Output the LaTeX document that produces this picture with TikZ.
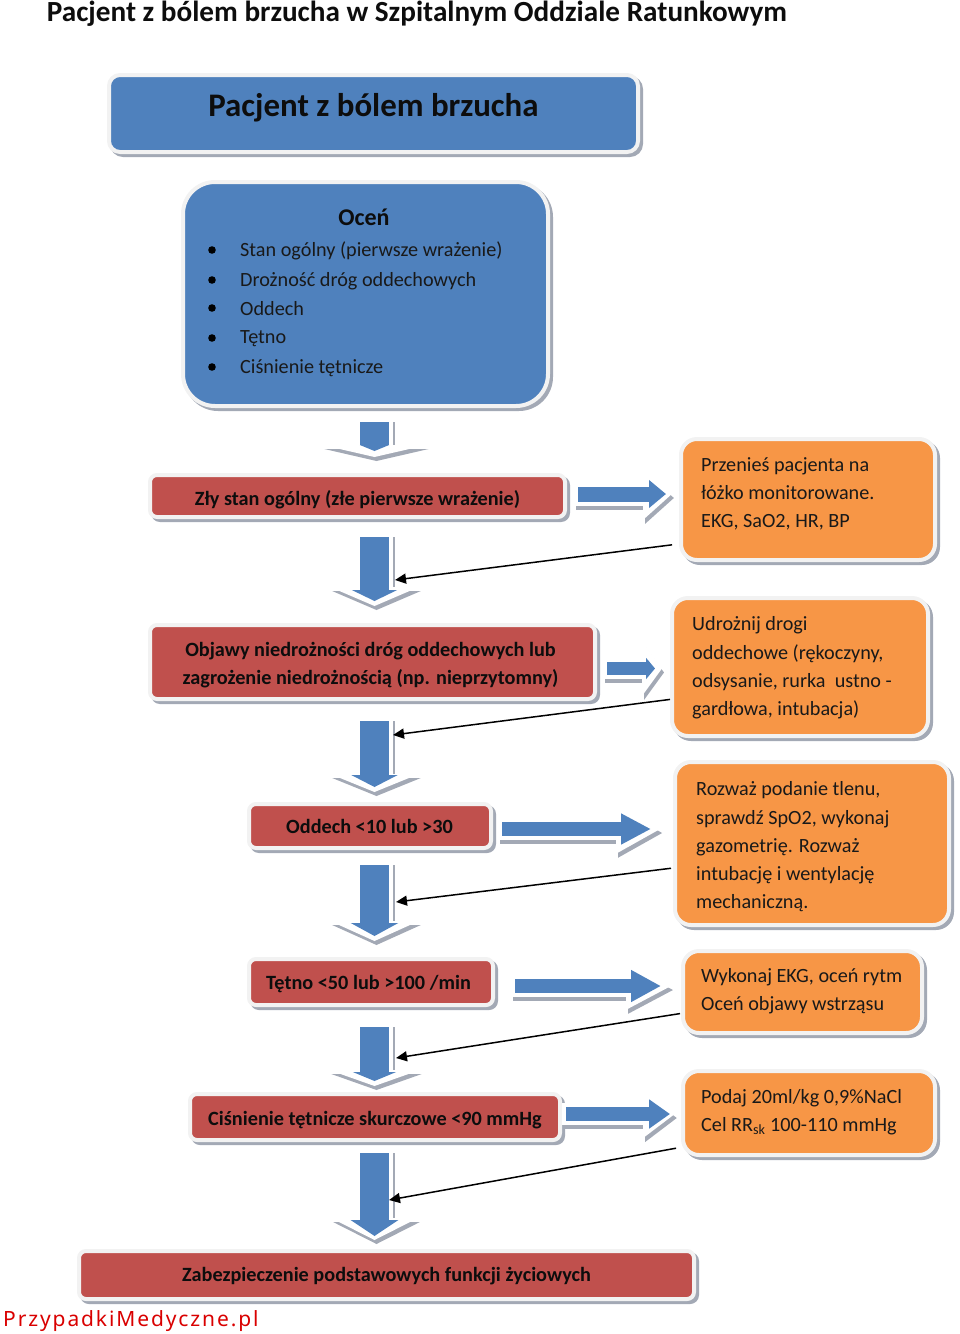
\documentclass[tikz,border=0pt]{standalone}
\usepackage{fontspec}
\setmainfont{Carlito}
\newfontfamily\markfont{Noto Sans}
\usetikzlibrary{arrows.meta}

\definecolor{boxblue}{HTML}{4F81BD}
\definecolor{boxred}{HTML}{C0504D}
\definecolor{boxorange}{HTML}{F79646}
\definecolor{rimgrey}{HTML}{F2F2F2}
\definecolor{shadowgrey}{HTML}{A3A9B5}

% moves a line of text inside its box: right, down
\newcommand{\nudge}[3]{\raisebox{-#2}[\height][\depth]{\kern#1\relax #3}}

\tikzset{
	card/.style={draw=rimgrey,line width=4pt,inner sep=0pt,text=black!95,align=center,
		preaction={draw=shadowgrey,fill=shadowgrey,transform canvas={shift={(3pt,-3pt)}}}},
	redbox/.style={card,fill=boxred,rounded corners=7pt,font=\fontsize{20.25}{28}\selectfont\bfseries},
	bluebox/.style={card,fill=boxblue},
	orangebox/.style={card,fill=boxorange,rounded corners=16pt},
	orangetext/.style={anchor=west,align=left,inner sep=0pt,text=black!90,font=\fontsize{20.2}{28.3}\selectfont},
	listtext/.style={anchor=west,inner sep=0pt,text=black!90,font=\fontsize{20.2}{24}\selectfont},
	thinarrow/.style={black,line width=1.5pt,-{Triangle[length=11pt,width=10pt]}},
	% shaft, head width, head length, rim head width, rim head length, start gap, end gap, rim overhang
	blockarrow/.style n args={8}{line width=#1,draw=boxblue,-{Triangle[width=#2,length=#3]},
		shorten <=#6,shorten >=#7,
		preaction={draw=shadowgrey,line width=#1+8pt,-{Triangle[width=#4,length=#5]},
			shorten <=#6-4pt,shorten >=#7-#8,transform canvas={shift={(2pt,-4pt)}}},
		preaction={draw=white,line width=#1+8pt,-{Triangle[width=#4,length=#5]},
			shorten <=#6-4pt,shorten >=#7-#8}},
}

\begin{document}
\begin{tikzpicture}[x=1pt,y=-1pt]
	\useasboundingbox (0,0) rectangle (960,1334);
	\node[inner sep=0pt,font=\fontsize{29.2}{32}\selectfont\bfseries,text=black!95] (title) at (417,14) {Pacjent z bólem brzucha w Szpitalnym Oddziale Ratunkowym};

	% left column
	\node[bluebox,rounded corners=11pt,minimum width=529pt,minimum height=77pt,font=\fontsize{32.9}{36}\selectfont\bfseries] (header) at (373.5,113.5) {\nudge{0pt}{-6pt}{Pacjent z bólem brzucha}};
	\node[bluebox,rounded corners=32pt,minimum width=365pt,minimum height=224pt] (ocen) at (365.5,294) {};
	\node[redbox,minimum width=415pt,minimum height=42pt] (zly) at (357.5,496) {\nudge{0pt}{3.5pt}{Zły stan ogólny (złe pierwsze wrażenie)}};
	\node[redbox,minimum width=445pt,minimum height=74pt] (objawy) at (372.5,662) {\nudge{-4pt}{3pt}{Objawy niedrożności dróg oddechowych lub}\\\nudge{-4pt}{3pt}{zagrożenie niedrożnością (np. nieprzytomny)}};
	\node[redbox,minimum width=242pt,minimum height=44pt] (oddech) at (370,826) {\nudge{-1pt}{0pt}{Oddech <10 lub >30}};
	\node[redbox,minimum width=244pt,minimum height=46pt] (tetno) at (371,982) {\nudge{-5pt}{2pt}{Tętno <50 lub >100 /min}};
	\node[redbox,minimum width=370pt,minimum height=46pt] (cisnienie) at (375,1117) {\nudge{0pt}{3pt}{Ciśnienie tętnicze skurczowe <90 mmHg}};
	\node[redbox,minimum width=615pt,minimum height=48pt] (zabezp) at (386.5,1275) {\nudge{0pt}{1pt}{Zabezpieczenie podstawowych funkcji życiowych}};

	% contents of the first box
	\node[inner sep=0pt,text=black!95,font=\fontsize{24}{28}\selectfont\bfseries] (ocentitle) at (364,217) {Oceń};
	\foreach \yy/\txt in {251/Stan ogólny (pierwsze wrażenie),281/Drożność dróg oddechowych,309/Oddech,339/Tętno,368/Ciśnienie tętnicze}{
		\fill[black] (212,\yy-1) circle (3.8pt);
		\node[listtext] at (240,\yy) {\txt};
	}

	% right column
	\node[orangebox,minimum width=254pt,minimum height=121pt] (lozko) at (808,499.5) {};
	\node[orangebox,minimum width=256pt,minimum height=138pt] (drogi) at (800,667) {};
	\node[orangebox,minimum width=274pt,minimum height=163pt] (tlen) at (812,843.5) {};
	\node[orangebox,minimum width=239pt,minimum height=82pt] (ekg) at (802.5,992) {};
	\node[orangebox,minimum width=252pt,minimum height=84pt] (plyny) at (809,1113) {};
	\node[orangetext] at (701,494) {Przenieś pacjenta na\\łóżko monitorowane.\\EKG, SaO2, HR, BP};
	\node[orangetext] at (692,668) {Udrożnij drogi\\oddechowe (rękoczyny,\\odsysanie, rurka~~ustno -\\gardłowa, intubacja)};
	\node[orangetext] at (696,847) {Rozważ podanie tlenu,\\sprawdź SpO2, wykonaj\\gazometrię. Rozważ\\intubację i wentylację\\mechaniczną.};
	\node[orangetext] at (701,991) {Wykonaj EKG, oceń rytm\\Oceń objawy wstrząsu};
	\node[orangetext] at (701,1112) {Podaj 20ml/kg 0,9\%NaCl\\Cel RR\textsubscript{sk} 100-110 mmHg};

	% down arrows
	\draw[blockarrow={29pt}{29pt}{6pt}{104pt}{12pt}{14pt}{22pt}{6pt}] (374.5,0 |- ocen.south) -- (374.5,0 |- zly.north);
	\draw[blockarrow={29pt}{45pt}{11pt}{88pt}{19pt}{18pt}{22pt}{5pt}] (374.5,0 |- zly.south) -- (374.5,0 |- objawy.north);
	\draw[blockarrow={29pt}{46pt}{12pt}{88pt}{18pt}{20pt}{15pt}{5pt}] (374.5,0 |- objawy.south) -- (374.5,0 |- oddech.north);
	\draw[blockarrow={29pt}{47pt}{13pt}{88pt}{20pt}{15pt}{21pt}{5pt}] (374.5,0 |- oddech.south) -- (374.5,0 |- tetno.north);
	\draw[blockarrow={29pt}{43pt}{9pt}{90pt}{16pt}{20pt}{11pt}{5pt}] (374.5,0 |- tetno.south) -- (374.5,0 |- cisnienie.north);
	\draw[blockarrow={29pt}{47pt}{16pt}{86pt}{22pt}{11pt}{13pt}{4pt}] (374.5,0 |- cisnienie.south) -- (374.5,0 |- zabezp.north);

	% right arrows
	\draw[blockarrow={15pt}{27pt}{17pt}{50pt}{29pt}{11pt}{13pt}{6pt}] (zly.east |- 0,494) -- (lozko.west |- 0,494);
	\draw[blockarrow={13pt}{21pt}{9pt}{54pt}{20pt}{10pt}{15pt}{7pt}] (objawy.east |- 0,668.5) -- (drogi.west |- 0,668.5);
	\draw[blockarrow={14pt}{29pt}{30pt}{46pt}{45pt}{9pt}{22pt}{10pt}] (oddech.east |- 0,829) -- (tlen.west |- 0,829);
	\draw[blockarrow={14pt}{30pt}{30pt}{44pt}{46pt}{20pt}{20pt}{11pt}] (tetno.east |- 0,986) -- (ekg.west |- 0,986);
	\draw[blockarrow={14pt}{28pt}{21pt}{46pt}{32pt}{4pt}{11pt}{5pt}] (cisnienie.east |- 0,1114) -- (plyny.west |- 0,1114);

	% back to the main path
	\coordinate (back1) at (395,580);
	\coordinate (back2) at (393,735);
	\coordinate (back3) at (396,902);
	\coordinate (back4) at (396,1058);
	\coordinate (back5) at (389,1200);
	\draw[thinarrow,shorten <=7pt] (lozko.199.7) -- (back1);
	\draw[thinarrow] (drogi.194.9) -- (back2);
	\draw[thinarrow,shorten <=2pt] (tlen.190) -- (back3);
	\draw[thinarrow,shorten <=1pt] (ekg.190.4) -- (back4);
	\draw[thinarrow,shorten <=5pt] (plyny.195.5) -- (back5);

	\node[anchor=west,inner sep=0pt,text=red!85!black,font=\markfont\fontsize{21}{24}\selectfont\addfontfeature{LetterSpace=9}] (mark) at (3,1321) {PrzypadkiMedyczne.pl};
\end{tikzpicture}
\end{document}
